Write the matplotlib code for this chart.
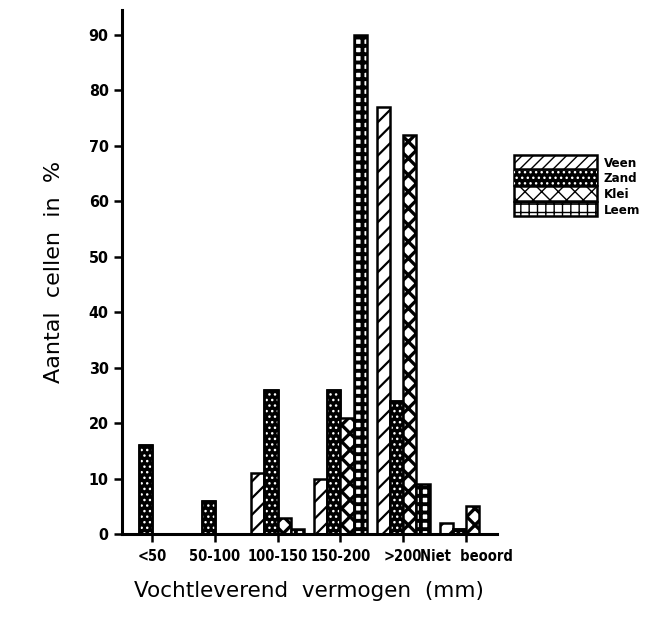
import matplotlib
matplotlib.use("Agg")
import matplotlib.pyplot as plt
import numpy as np

categories = ["<50", "50-100", "100-150", "150-200", ">200", "Niet  beoord"]
series_names = ["Veen", "Zand", "Klei", "Leem"]
veen = [0, 0, 11, 10, 77, 2]
zand = [16, 6, 26, 26, 24, 1]
klei = [0, 0, 3, 21, 72, 5]
leem = [0, 0, 1, 90, 9, 0]
yticks = [0, 10, 20, 30, 40, 50, 60, 70, 80, 90]

fig = plt.figure(figsize=(6.59, 6.19), dpi=100)
ax = fig.add_axes([0.185, 0.137, 0.569, 0.847])

x = np.arange(len(categories))
w = 0.21
offs = [-1.5, -0.5, 0.5, 1.5]
lw = 1.8

# Veen
with plt.rc_context({'hatch.linewidth': 1.6}):
    ax.bar(x + offs[0]*w, veen, w, facecolor='white', edgecolor='black', hatch='//', linewidth=lw)
    hv = plt.Rectangle((0, 0), 1, 1, facecolor='white', edgecolor='black', hatch='///', linewidth=lw)
# Zand: black with white dots
ax.bar(x + offs[1]*w, zand, w, facecolor='black', edgecolor='black', linewidth=lw)
with plt.rc_context({'hatch.linewidth': 1.0}):
    ax.bar(x + offs[1]*w, zand, w, facecolor='none', edgecolor='white', hatch='...', linewidth=0)
    hz1 = plt.Rectangle((0, 0), 1, 1, facecolor='black', edgecolor='black', linewidth=lw)
    hz2 = plt.Rectangle((0, 0), 1, 1, facecolor='none', edgecolor='white', hatch='...', linewidth=0)
ax.bar(x + offs[1]*w, zand, w, facecolor='none', edgecolor='black', linewidth=lw)
# Klei
with plt.rc_context({'hatch.linewidth': 2.4}):
    ax.bar(x + offs[2]*w, klei, w, facecolor='white', edgecolor='black', hatch='xx', linewidth=lw)
    hk = plt.Rectangle((0, 0), 1, 1, facecolor='white', edgecolor='black', hatch='xx', linewidth=lw)
# Leem
with plt.rc_context({'hatch.linewidth': 2.8}):
    ax.bar(x + offs[3]*w, leem, w, facecolor='white', edgecolor='black', hatch='++', linewidth=lw)
    hl = plt.Rectangle((0, 0), 1, 1, facecolor='white', edgecolor='black', hatch='++', linewidth=lw)

ax.set_xlim(-0.48, 5.49)
ax.set_ylim(0, 94.5)
for s in ['top', 'right']:
    ax.spines[s].set_visible(False)
for s in ['left', 'bottom']:
    ax.spines[s].set_linewidth(2.2)
ax.set_xticks(x)
ax.set_xticklabels(categories, fontfamily='DejaVu Sans', fontstretch='condensed',
                   fontweight='bold', fontsize=10.5)
ax.set_yticks(yticks)
ax.set_yticklabels([str(v) for v in yticks], fontfamily='DejaVu Sans', fontstretch='condensed',
                   fontweight='bold', fontsize=11.5)
ax.tick_params(axis='both', direction='out', length=6, width=1.8)
ax.tick_params(axis='x', pad=5)

ax.set_xlabel("Vochtleverend  vermogen  (mm)", fontsize=15.5, labelpad=12)
ax.set_ylabel("Aantal  cellen  in  %", fontsize=16, labelpad=18)

leg = fig.legend([hv, (hz1, hz2), hk, hl], series_names,
                 loc='upper left', bbox_to_anchor=(0.772, 0.758),
                 frameon=False, handlelength=6.3, handleheight=1.3,
                 labelspacing=0.08, handletextpad=0.5, borderaxespad=0,
                 prop={'family': 'DejaVu Sans', 'stretch': 'condensed', 'weight': 'bold', 'size': 9.5})

fig.savefig("out.png", dpi=100)
